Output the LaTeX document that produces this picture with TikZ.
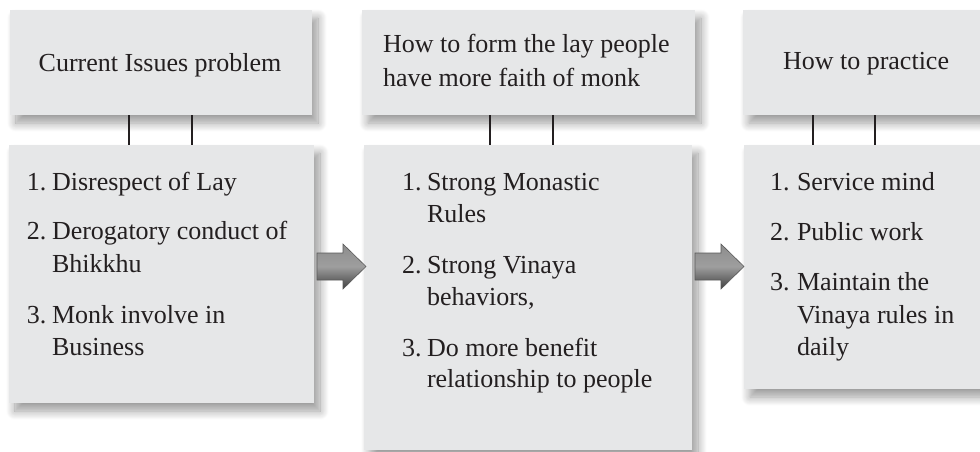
\documentclass[tikz,border=0pt]{standalone}
\usepackage{fontspec}
\setmainfont{Liberation Serif}
\newfontfamily\tnr{Liberation Serif}
\usetikzlibrary{shadows.blur}
\definecolor{boxfill}{HTML}{E6E7E8}
\definecolor{ink}{HTML}{231F20}
\begin{document}
\begin{tikzpicture}[x=1pt,y=-1pt,
  panel/.style={fill=boxfill, draw=none, inner sep=0pt, outer sep=0pt, anchor=north west,
    blur shadow={shadow xshift=6pt, shadow yshift=-8pt, shadow blur radius=9pt, shadow opacity=40, shadow blur steps=12}},
  txt/.style={font=\tnr\fontsize{26}{32.5}\selectfont, inner sep=0pt, outer sep=0pt, anchor=base west, text=ink},
  link/.style={draw=ink, line width=1.1pt},
  flow/.style={top color=black!45, bottom color=black!75, middle color=black!38, draw=black!65, line width=0.6pt, line join=miter}]
\useasboundingbox (0,0) rectangle (980,452);
\clip (0,0) rectangle (980,452);

% panels
\node[panel, minimum width=302pt, minimum height=105pt] (t1) at (10,10) {};
\node[panel, minimum width=305pt, minimum height=258pt] (b1) at (9,145) {};
\node[panel, minimum width=333pt, minimum height=105pt] (t2) at (362,10) {};
\node[panel, minimum width=328pt, minimum height=305pt] (b2) at (364,145) {};
\node[panel, minimum width=246pt, minimum height=105pt] (t3) at (743,10) {};
\node[panel, minimum width=250pt, minimum height=244pt] (b3) at (744,145) {};

% titles
\node[txt, anchor=base] (h1) at (160,72) {Current Issues problem};
\node[txt] (h2a) at (383,53) {How to form the lay people};
\node[txt] (h2b) at (383,87) {have more faith of monk};
\node[txt] (h3) at (783,70) {How to practice};

% connectors between title and list panels
\coordinate (c1) at (129,0); \coordinate (c2) at (192,0);
\coordinate (c3) at (490,0); \coordinate (c4) at (553,0);
\coordinate (c5) at (813,0); \coordinate (c6) at (875,0);
\foreach \c/\t/\b in {c1/t1/b1, c2/t1/b1, c3/t2/b2, c4/t2/b2, c5/t3/b3, c6/t3/b3}
  \draw[link] (\t.south -| \c) -- (\b.north -| \c);

% list texts
\foreach \x/\y/\s [count=\i] in {
  27/190/{1.}, 52/190/{Disrespect of Lay},
  27/239/{2.}, 52/239/{Derogatory conduct of}, 52/272/{Bhikkhu},
  27/323/{3.}, 52/323/{Monk involve in}, 52/355/{Business},
  402/190/{1.}, 427/190/{Strong Monastic}, 427/222/{Rules},
  402/273/{2.}, 427/273/{Strong Vinaya}, 427/305/{behaviors,},
  402/356/{3.}, 427/356/{Do more benefit}, 427/387/{relationship to people},
  770/190/{1.}, 797/190/{Service mind},
  770/240/{2.}, 797/240/{Public work},
  770/290/{3.}, 797/290/{Maintain the}, 797/323/{Vinaya rules in}, 797/355/{daily}}
  \node[txt, name=w\i] at (\x,\y) {\s};

% flow arrows between list panels
\coordinate (a1) at (317,266.5);
\coordinate (a2) at (695,266.5);
\foreach \a in {a1, a2}
  \shade[flow] (\a) ++(0,-13.5) -- ++(26,0) -- ++(0,-9) -- ++(23,22.5) -- ++(-23,22.5) -- ++(0,-9) -- ++(-26,0) -- cycle;
\end{tikzpicture}
\end{document}
